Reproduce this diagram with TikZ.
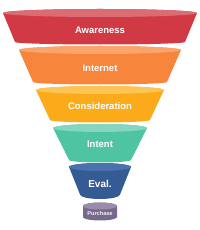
\documentclass[tikz,border=0pt]{standalone}
\usepackage{fontspec}
\setmainfont{Liberation Sans}
\definecolor{redB}{HTML}{D13A44}\definecolor{redT}{HTML}{DC6C74}
\definecolor{orB}{HTML}{F7853C}\definecolor{orT}{HTML}{F9A46A}
\definecolor{yeB}{HTML}{FBAA19}\definecolor{yeT}{HTML}{FCC355}
\definecolor{teB}{HTML}{4FC4A3}\definecolor{teT}{HTML}{84D6BF}
\definecolor{naB}{HTML}{345B94}\definecolor{naT}{HTML}{4A72AD}
\definecolor{puB}{HTML}{77688C}\definecolor{puT}{HTML}{9A8DAB}
\tikzset{lbl/.style={text=white,font=\fontsize{9.5}{11}\selectfont\bfseries}}
% #1 top y, #2 top half width, #3 bottom y, #4 bottom half width, #5 body colour, #6 top colour, #7 bottom curvature
\newcommand{\funnellayer}[7]{%
  \fill[#5] (100-#2,#1) -- (100-#4,#3) arc[start angle=180,end angle=360,x radius=#4,y radius=#7] -- (100+#2,#1) arc[start angle=0,end angle=180,x radius=#2,y radius=4] -- cycle;
  \fill[#6] (100,#1) ellipse[x radius=#2,y radius=4];
}
\begin{document}
\begin{tikzpicture}[x=1pt,y=1pt]
\useasboundingbox (0,0) rectangle (200,230);
\funnellayer{217}{97}{188}{85}{redB}{redT}{2.5}
\node[lbl] (aw) at (100,200) {Awareness};
\funnellayer{180}{81}{148}{67}{orB}{orT}{2.5}
\node[lbl] (in) at (100,162) {Internet};
\funnellayer{140}{64}{110}{50}{yeB}{yeT}{2.5}
\node[lbl] (co) at (100,124) {Consideration};
\funnellayer{102}{47}{70}{31}{teB}{teT}{2.5}
\node[lbl] (it) at (100,86) {Intent};
\funnellayer{63}{31}{35.5}{20}{naB}{naT}{4.5}
\node[lbl,font=\fontsize{10}{12}\selectfont\bfseries] (ev) at (100,46) {Eval.};
% Purchase cylinder
\fill[puB] (83,24) -- (83,13) arc[start angle=180,end angle=360,x radius=17,y radius=3.5] -- (117,24) arc[start angle=0,end angle=180,x radius=17,y radius=3.5] -- cycle;
\fill[puT] (100,24) ellipse[x radius=17,y radius=3.5];
\node[text=white!90!puT,font=\fontsize{5.6}{6}\selectfont\bfseries] (pu) at (100,16.5) {Purchase};
\end{tikzpicture}
\end{document}
